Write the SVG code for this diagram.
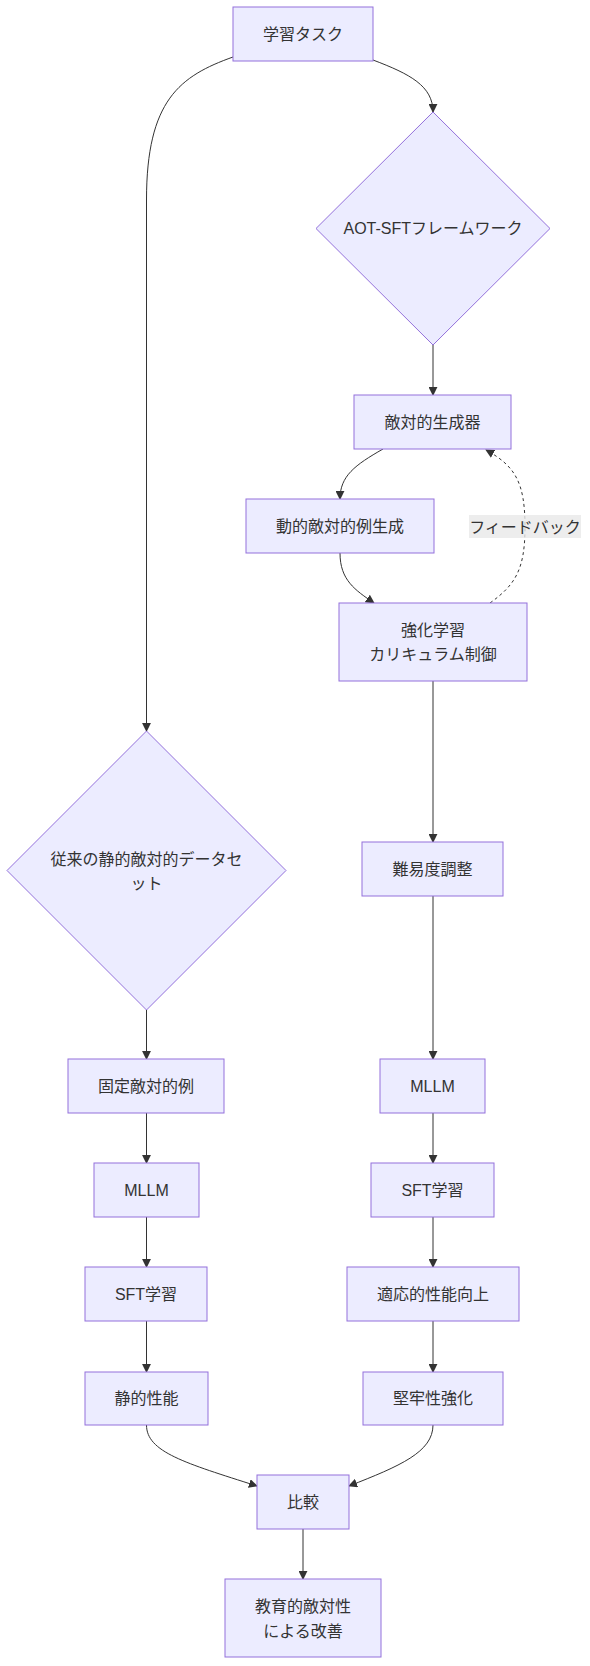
<svg xmlns="http://www.w3.org/2000/svg" width="590" height="1666" viewBox="0 0 590 1666">
<style>
.n rect,.n polygon{fill:#ECECFF;stroke:#9370DB;stroke-width:1}
text{font-family:"Liberation Sans","Noto Sans CJK JP",sans-serif;font-size:16px;fill:#333;text-anchor:middle;dominant-baseline:central}
.e path{fill:none;stroke:#333;stroke-width:1}
.e path.d{stroke-dasharray:3,3}
</style>
<defs>
<marker id="ah" viewBox="0 0 10 10" refX="9" refY="5" markerUnits="userSpaceOnUse" markerWidth="9" markerHeight="9" orient="auto">
<path d="M0,0 L10,5 L0,10 z" fill="#333"/>
</marker>
</defs>
<rect width="590" height="1666" fill="#fff"/>
<g class="e">
<path d="M373,60 C410,74 433,86 433,112" marker-end="url(#ah)"/>
<path d="M233,57 C180,76 146.5,100 146.5,200 L146.5,731" marker-end="url(#ah)"/>
<path d="M433,345 L433,395" marker-end="url(#ah)"/>
<path d="M383,449 C355,465 340,476 340,499" marker-end="url(#ah)"/>
<path d="M340,553 C340,580 355,590 374,603" marker-end="url(#ah)"/>
<path class="d" d="M490,603 C515,585 525,570 525,527 C525,482 515,466 486,450" marker-end="url(#ah)"/>
<path d="M433,681 L433,842" marker-end="url(#ah)"/>
<path d="M433,896 L433,1059" marker-end="url(#ah)"/>
<path d="M433,1113 L433,1163" marker-end="url(#ah)"/>
<path d="M433,1217 L433,1267" marker-end="url(#ah)"/>
<path d="M433,1321 L433,1372" marker-end="url(#ah)"/>
<path d="M146.5,1010 L146.5,1059" marker-end="url(#ah)"/>
<path d="M146.5,1113 L146.5,1163" marker-end="url(#ah)"/>
<path d="M146.5,1217 L146.5,1267" marker-end="url(#ah)"/>
<path d="M146.5,1321 L146.5,1372" marker-end="url(#ah)"/>
<path d="M146.5,1425 C146.5,1452 185,1463 257,1486" marker-end="url(#ah)"/>
<path d="M433,1425 C433,1452 400,1466 349,1486" marker-end="url(#ah)"/>
<path d="M303,1529 L303,1579" marker-end="url(#ah)"/>
</g>
<g id="edge-label-feedback">
<rect x="469" y="515" width="112" height="23" fill="#e8e8e8" fill-opacity="0.8"/>
<text x="525" y="527">フィードバック</text>
</g>
<g id="task" class="n"><rect x="233" y="7" width="140" height="54"/><text x="303" y="34">学習タスク</text></g>
<g id="aot" class="n"><polygon points="433,112 550,228.5 433,345 316,228.5"/><text x="433" y="228.5">AOT-SFTフレームワーク</text></g>
<g id="gen" class="n"><rect x="354" y="395" width="157" height="54"/><text x="432.5" y="422">敵対的生成器</text></g>
<g id="dyn" class="n"><rect x="246" y="499" width="188" height="54"/><text x="340" y="526">動的敵対的例生成</text></g>
<g id="rl" class="n"><rect x="339" y="603" width="188" height="78"/><text x="433" y="630">強化学習</text><text x="433" y="654">カリキュラム制御</text></g>
<g id="diff" class="n"><rect x="362" y="842" width="141" height="54"/><text x="432.5" y="869">難易度調整</text></g>
<g id="mllm2" class="n"><rect x="380" y="1059" width="105" height="54"/><text x="432.5" y="1086">MLLM</text></g>
<g id="sft2" class="n"><rect x="371" y="1163" width="123" height="54"/><text x="432.5" y="1190">SFT学習</text></g>
<g id="adapt" class="n"><rect x="347" y="1267" width="172" height="54"/><text x="433" y="1294">適応的性能向上</text></g>
<g id="robust" class="n"><rect x="363" y="1372" width="140" height="53"/><text x="433" y="1398.5">堅牢性強化</text></g>
<g id="legacy" class="n"><polygon points="146.5,731 286,870.5 146.5,1010 7,870.5"/><text x="146.5" y="859">従来の静的敵対的データセ</text><text x="146.5" y="883">ット</text></g>
<g id="fixed" class="n"><rect x="68" y="1059" width="156" height="54"/><text x="146" y="1086">固定敵対的例</text></g>
<g id="mllm1" class="n"><rect x="94" y="1163" width="105" height="54"/><text x="146.5" y="1190">MLLM</text></g>
<g id="sft1" class="n"><rect x="85" y="1267" width="122" height="54"/><text x="146" y="1294">SFT学習</text></g>
<g id="static" class="n"><rect x="85" y="1372" width="123" height="53"/><text x="146.5" y="1398.5">静的性能</text></g>
<g id="cmp" class="n"><rect x="257" y="1475" width="92" height="54"/><text x="303" y="1502">比較</text></g>
<g id="edu" class="n"><rect x="225" y="1579" width="156" height="78"/><text x="303" y="1606">教育的敵対性</text><text x="303" y="1631">による改善</text></g>
</svg>
